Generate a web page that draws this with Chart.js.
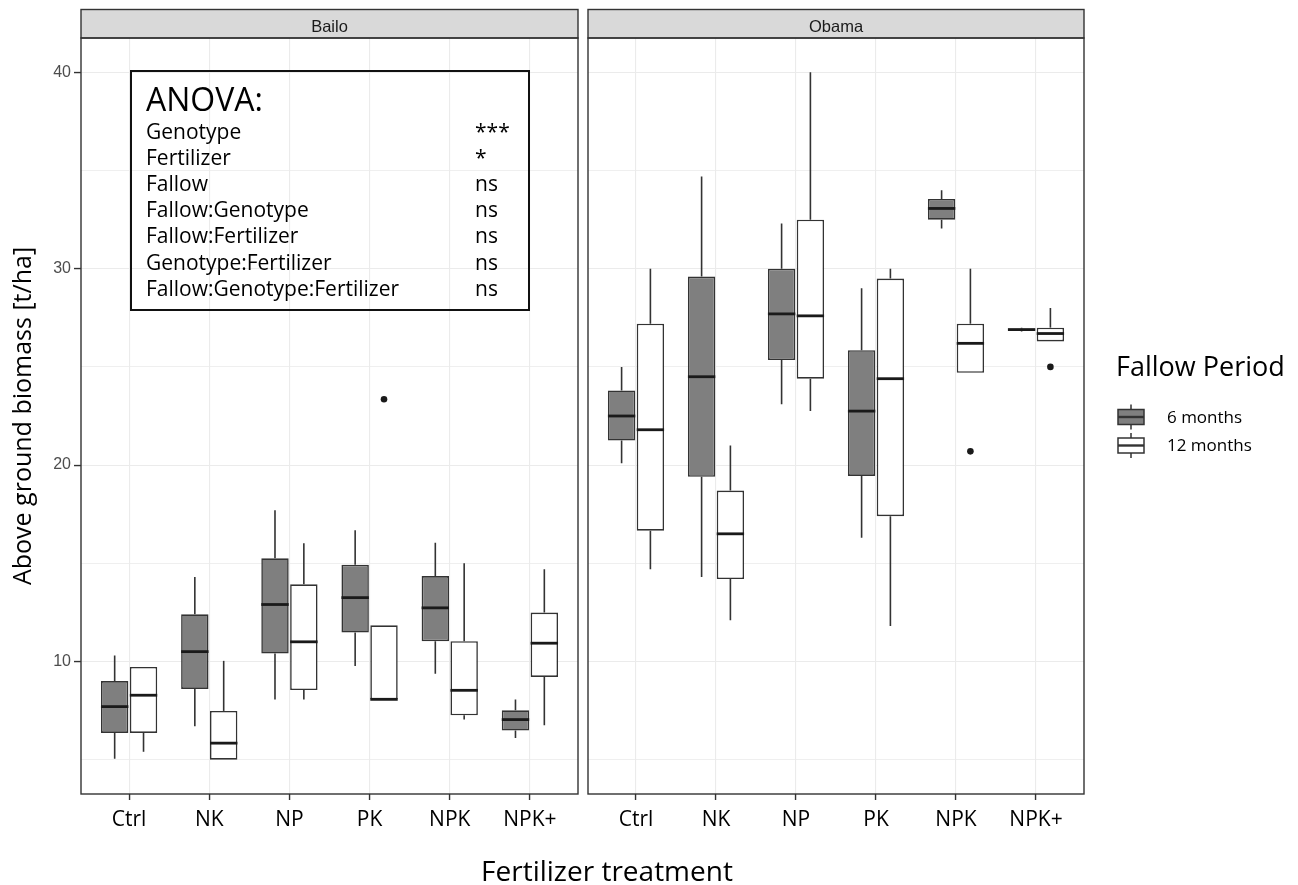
<!DOCTYPE html>
<html>
<head>
<meta charset="utf-8">
<script src="https://cdn.jsdelivr.net/npm/chart.js@4.4.1/dist/chart.umd.min.js"></script>
<style>
  html, body { margin: 0; padding: 0; background: #fff; }
  #wrap { position: relative; width: 1298px; height: 885px; overflow: hidden; }
  #wrap canvas { position: absolute; left: 0; top: 0; }
  .txt { position: absolute; font-family: "Open Sans", sans-serif; color: #000; white-space: nowrap; }
  #anova { position: absolute; left: 130px; top: 70px; width: 396px; height: 237px; border: 2px solid #111; }
  #anova .row { position: absolute; font-family: "Open Sans", sans-serif; font-size: 21px; line-height: 26px; white-space: nowrap; }
</style>
</head>
<body>
<div id="wrap">
  <canvas id="bailo" width="1298" height="885"></canvas>
  <canvas id="obama" width="1298" height="885"></canvas>
  <div id="anova"></div>
  <div class="txt" id="xtitle" style="left:0; width:1214px; top:853px; font-size:28px; line-height:34px; text-align:center;">Fertilizer treatment</div>
</div>
<script>
// facets, categories and series
const panels = ['Bailo', 'Obama'];
const categories = ['Ctrl', 'NK', 'NP', 'PK', 'NPK', 'NPK+'];
const seriesLabels = ['6 months', '12 months'];
const yTicks = [5, 10, 15, 20, 25, 30, 35, 40];

// each box: [lower whisker, Q1, median, Q3, upper whisker]
const bailo6 = [
  [5.05, 6.36, 7.7, 9.0, 10.3],
  [6.7, 8.6, 10.5, 12.4, 14.3],
  [8.06, 10.4, 12.9, 15.25, 17.7],
  [9.77, 11.47, 13.25, 14.93, 16.68],
  [9.38, 11.03, 12.73, 14.35, 16.04],
  [6.1, 6.48, 7.04, 7.51, 8.06]
];
const bailo12 = [
  [5.4, 6.36, 8.28, 9.72, 9.72],
  [5.0, 5.0, 5.84, 7.48, 10.03],
  [8.06, 8.54, 11.0, 13.93, 16.02],
  [8.07, 8.07, 8.07, 11.84, 11.84],
  [7.05, 7.26, 8.53, 11.03, 15.0],
  [6.75, 9.21, 10.93, 12.49, 14.69]
];
const obama6 = [
  [20.1, 21.25, 22.5, 23.8, 25.0],
  [14.3, 19.4, 24.5, 29.6, 34.7],
  [23.1, 25.35, 27.7, 30.0, 32.3],
  [16.3, 19.45, 22.75, 25.85, 29.0],
  [32.05, 32.5, 33.07, 33.55, 34.0],
  [26.8, 26.85, 26.9, 26.95, 27.0]
];
const obama12 = [
  [14.7, 16.66, 21.8, 27.2, 30.0],
  [12.1, 14.2, 16.5, 18.7, 21.0],
  [22.75, 24.4, 27.6, 32.5, 40.0],
  [11.8, 17.4, 24.4, 29.5, 30.0],
  [24.7, 24.7, 26.2, 27.2, 30.0],
  [26.3, 26.3, 26.7, 27.0, 28.0]
];
const noOutliers = [[], [], [], [], [], []];
const bailo12Outliers = [[], [], [], [23.35], [], []];
const obama12Outliers = [[], [], [], [], [20.7], [25.0]];

// ANOVA table
const anovaTerms = ['Genotype', 'Fertilizer', 'Fallow', 'Fallow:Genotype', 'Fallow:Fertilizer', 'Genotype:Fertilizer', 'Fallow:Genotype:Fertilizer'];
const anovaSig = ['***', '*', 'ns', 'ns', 'ns', 'ns', 'ns'];

const ink = '#333333';
const fills = ['#7f7f7f', '#ffffff'];

// ANOVA box text
const anova = document.getElementById('anova');
let head = document.createElement('div');
head.className = 'row';
head.style.cssText = 'left:14px; top:8px; font-size:32px; line-height:38px;';
head.textContent = 'ANOVA:';
anova.appendChild(head);
anovaTerms.forEach((t, i) => {
  const top = 46 + i * 26.1;
  const a = document.createElement('div');
  a.className = 'row';
  a.style.left = '14px';
  a.style.top = top + 'px';
  a.textContent = t;
  anova.appendChild(a);
  const b = document.createElement('div');
  b.className = 'row';
  b.style.left = '343px';
  b.style.top = top + 'px';
  b.textContent = anovaSig[i];
  anova.appendChild(b);
});

// whiskers, medians, outliers, strip and panel frame
const boxplot = {
  id: 'boxplot',
  afterDatasetsDraw(chart) {
    const ctx = chart.ctx;
    const y = chart.scales.y;
    ctx.save();
    chart.data.datasets.forEach((ds, di) => {
      chart.getDatasetMeta(di).data.forEach((bar, i) => {
        const s = ds.stats[i];
        const half = bar.width / 2;
        ctx.strokeStyle = ink;
        ctx.lineWidth = 1.6;
        ctx.beginPath();
        ctx.moveTo(bar.x, y.getPixelForValue(s[3]));
        ctx.lineTo(bar.x, y.getPixelForValue(s[4]));
        ctx.moveTo(bar.x, y.getPixelForValue(s[1]));
        ctx.lineTo(bar.x, y.getPixelForValue(s[0]));
        ctx.stroke();
        ctx.strokeStyle = '#1a1a1a';
        ctx.lineWidth = 2.8;
        ctx.beginPath();
        ctx.moveTo(bar.x - half, y.getPixelForValue(s[2]));
        ctx.lineTo(bar.x + half, y.getPixelForValue(s[2]));
        ctx.stroke();
        ctx.fillStyle = '#1a1a1a';
        ds.outliers[i].forEach(v => {
          ctx.beginPath();
          ctx.arc(bar.x, y.getPixelForValue(v), 3.3, 0, Math.PI * 2);
          ctx.fill();
        });
      });
    });
    ctx.restore();
  },
  afterDraw(chart, args, opts) {
    const ctx = chart.ctx;
    const a = chart.chartArea;
    ctx.save();
    ctx.strokeStyle = ink;
    ctx.lineWidth = 1.4;
    ctx.fillStyle = '#d9d9d9';
    ctx.fillRect(a.left, 9.5, a.right - a.left, a.top - 9.5);
    ctx.strokeRect(a.left, 9.5, a.right - a.left, a.top - 9.5);
    ctx.strokeRect(a.left, a.top, a.right - a.left, a.bottom - a.top);
    ctx.fillStyle = '#1a1a1a';
    ctx.font = '16.5px "Liberation Sans"';
    ctx.textAlign = 'center';
    ctx.textBaseline = 'middle';
    ctx.fillText(opts.strip, (a.left + a.right) / 2, 27);
    if (opts.legend) {
      ctx.textAlign = 'left';
      ctx.textBaseline = 'alphabetic';
      ctx.fillStyle = '#000';
      ctx.font = '27px "Open Sans"';
      ctx.fillText('Fallow Period', 1116, 376);
      chart.data.datasets.forEach((ds, di) => {
        const cy = 417 + di * 28.5;
        const cx = 1131;
        ctx.strokeStyle = ink;
        ctx.lineWidth = 1.5;
        ctx.beginPath();
        ctx.moveTo(cx, cy - 12.5); ctx.lineTo(cx, cy - 7.5);
        ctx.moveTo(cx, cy + 7.5); ctx.lineTo(cx, cy + 12.5);
        ctx.stroke();
        ctx.fillStyle = ds.backgroundColor;
        ctx.fillRect(cx - 13, cy - 7.5, 26, 15);
        ctx.strokeRect(cx - 13, cy - 7.5, 26, 15);
        ctx.lineWidth = 2.4;
        ctx.beginPath();
        ctx.moveTo(cx - 13, cy); ctx.lineTo(cx + 13, cy);
        ctx.stroke();
        ctx.fillStyle = '#000';
        ctx.font = '17px "Open Sans"';
        ctx.textBaseline = 'middle';
        ctx.fillText(ds.label, 1167, cy + 1);
        ctx.textBaseline = 'alphabetic';
      });
    }
    ctx.restore();
  }
};

function makeDatasets(s6, s12, out12) {
  const mk = (stats, outs, k) => ({
    label: seriesLabels[k],
    data: stats.map((s, i) => ({ x: i, y: [s[1], s[3]] })),
    stats: stats,
    outliers: outs,
    backgroundColor: fills[k],
    borderColor: ink,
    borderWidth: 1.6,
    borderSkipped: false,
    categoryPercentage: 0.72,
    barPercentage: 0.95
  });
  return [mk(s6, noOutliers, 0), mk(s12, out12, 1)];
}

function makeChart(id, name, datasets, left, right, showY, legend) {
  return new Chart(document.getElementById(id), {
    type: 'bar',
    data: { datasets: datasets },
    plugins: [boxplot],
    options: {
      responsive: false,
      animation: false,
      events: [],
      layout: { padding: { left: left, right: 1298 - right, top: 38, bottom: 0 } },
      plugins: {
        legend: { display: false },
        tooltip: { enabled: false },
        boxplot: { strip: name, legend: legend }
      },
      scales: {
        x: {
          type: 'linear',
          min: -0.6,
          max: 5.6,
          offset: false,
          afterBuildTicks: (axis) => { axis.ticks = categories.map((c, i) => ({ value: i })); },
          afterFit: (axis) => { axis.height = 91; },
          border: { display: false },
          grid: { offset: false, color: '#ebebeb', lineWidth: 1.1, tickLength: 6, tickColor: ink, tickWidth: 1.4 },
          ticks: {
            padding: 7,
            color: '#000',
            font: { family: 'Open Sans', size: 21 },
            maxRotation: 0,
            callback: (v) => categories[v]
          }
        },
        y: {
          min: 3.25,
          max: 41.75,
          beginAtZero: false,
          afterBuildTicks: (axis) => { axis.ticks = yTicks.map(v => ({ value: v })); },
          afterFit: (axis) => { axis.width = showY ? 81 : 0; },
          border: { display: false },
          grid: {
            color: '#ebebeb',
            lineWidth: (c) => (c.tick && c.tick.value % 10 === 0 ? 1.1 : 0.8),
            drawTicks: showY,
            tickLength: 7,
            tickWidth: 1.4,
            tickColor: (c) => (c.tick && c.tick.value % 10 === 0 ? ink : 'rgba(0,0,0,0)')
          },
          ticks: {
            display: showY,
            padding: 3,
            color: '#4d4d4d',
            font: { family: 'Liberation Sans', size: 16 },
            callback: (v) => (v % 10 === 0 ? v : '')
          },
          title: {
            display: showY,
            text: 'Above ground biomass [t/ha]',
            color: '#000',
            font: { family: 'Open Sans', size: 25 },
            padding: { top: 9, bottom: 0 }
          }
        }
      }
    }
  });
}

makeChart('bailo', panels[0], makeDatasets(bailo6, bailo12, bailo12Outliers), 0, 578, true, false);
makeChart('obama', panels[1], makeDatasets(obama6, obama12, obama12Outliers), 588, 1084, false, true);
</script>
</body>
</html>
